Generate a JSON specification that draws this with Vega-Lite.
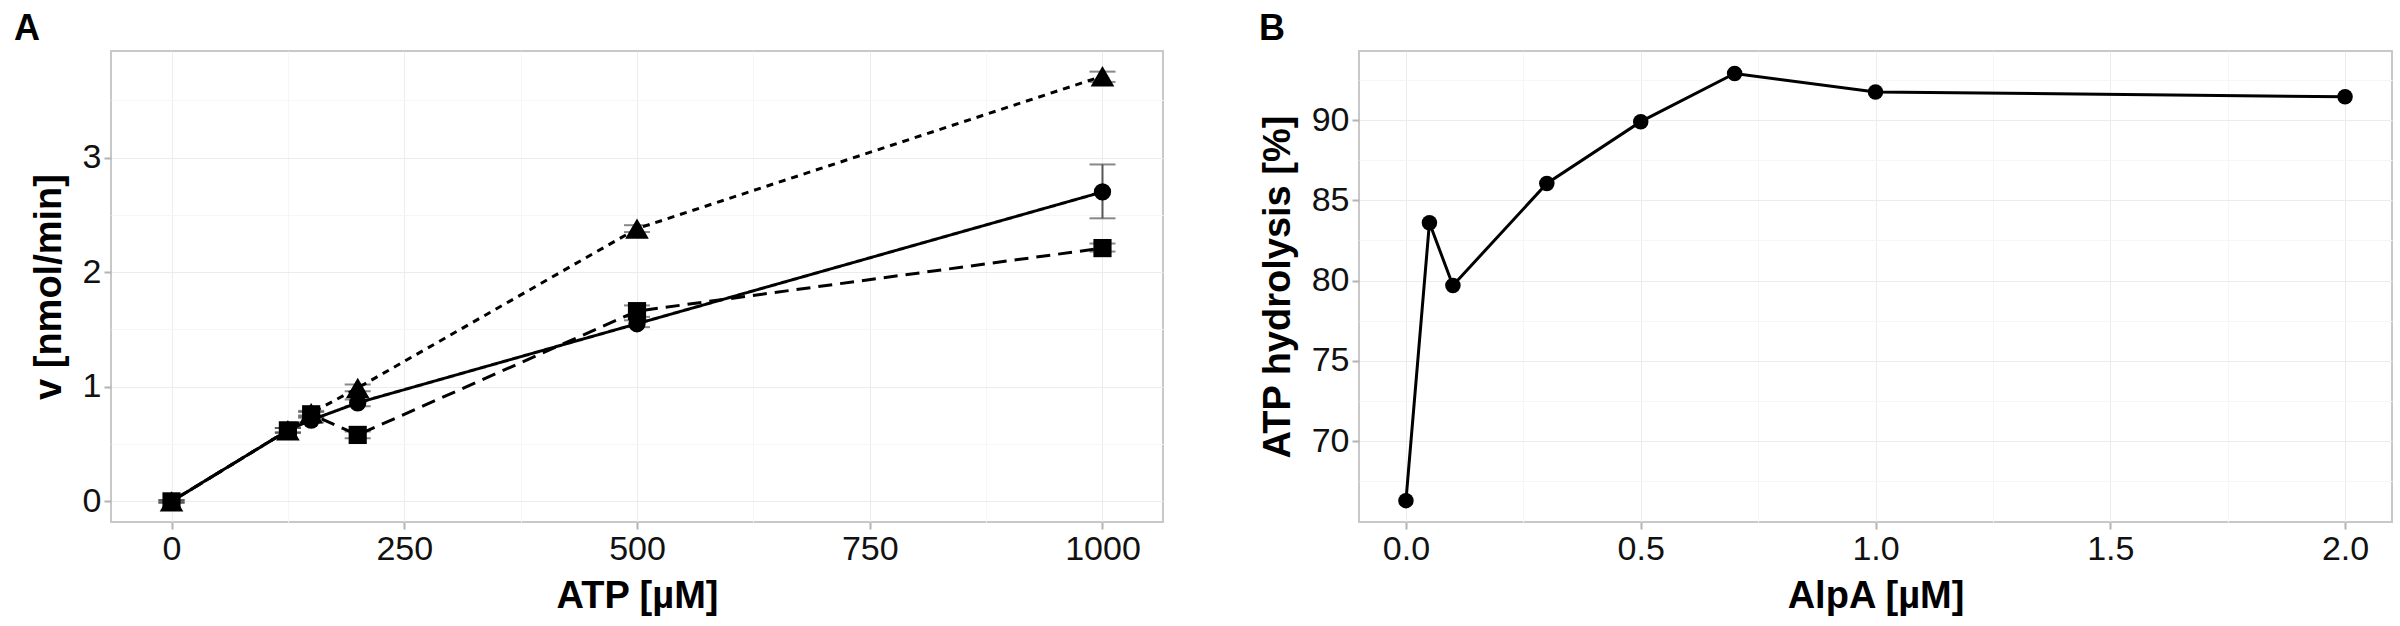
{
  "$schema": "https://vega.github.io/schema/vega-lite/v6.json",
  "padding": {"left": 13, "top": 10, "right": 9, "bottom": 0},
  "autosize": {"type": "pad"},
  "spacing": 94,
  "config": {
    "font": "Liberation Sans",
    "view": {"stroke": "#c8c8c8", "strokeWidth": 2},
    "axis": {
      "domain": false,
      "tickColor": "#b3b3b3",
      "tickWidth": 2,
      "tickSize": 7,
      "labelFont": "Liberation Sans",
      "labelFontSize": 34,
      "labelColor": "#111111",
      "labelOverlap": false,
      "labelFlush": false,
      "titleFont": "Liberation Sans",
      "titleFontSize": 38,
      "titleFontWeight": "bold",
      "titleColor": "#000000"
    },
    "axisX": {"labelPadding": 3, "titlePadding": 11},
    "axisY": {"labelPadding": 3, "titlePadding": 14},
    "title": {"fontSize": 36, "fontWeight": "bold", "anchor": "start", "frame": "group", "offset": 3, "color": "#000000", "font": "Liberation Sans"}
  },
  "hconcat": [
    {
      "title": {"text": "A", "dx": -97},
      "width": 1052,
      "height": 471,
      "data": {
        "values": [
          {"atp": 0, "v": 0, "lo": -0.01, "hi": 0.01, "s": "circle"},
          {"atp": 125, "v": 0.62, "lo": 0.6, "hi": 0.64, "s": "circle"},
          {"atp": 150, "v": 0.71, "lo": 0.69, "hi": 0.73, "s": "circle"},
          {"atp": 200, "v": 0.86, "lo": 0.83, "hi": 0.89, "s": "circle"},
          {"atp": 500, "v": 1.55, "lo": 1.52, "hi": 1.58, "s": "circle"},
          {"atp": 1000, "v": 2.7, "lo": 2.47, "hi": 2.94, "s": "circle"},
          {"atp": 0, "v": 0, "lo": -0.01, "hi": 0.01, "s": "triangle"},
          {"atp": 125, "v": 0.62, "lo": 0.6, "hi": 0.64, "s": "triangle"},
          {"atp": 150, "v": 0.77, "lo": 0.75, "hi": 0.79, "s": "triangle"},
          {"atp": 200, "v": 0.99, "lo": 0.96, "hi": 1.02, "s": "triangle"},
          {"atp": 500, "v": 2.38, "lo": 2.35, "hi": 2.41, "s": "triangle"},
          {"atp": 1000, "v": 3.71, "lo": 3.66, "hi": 3.75, "s": "triangle"},
          {"atp": 0, "v": 0, "lo": -0.01, "hi": 0.01, "s": "square"},
          {"atp": 125, "v": 0.62, "lo": 0.6, "hi": 0.64, "s": "square"},
          {"atp": 150, "v": 0.76, "lo": 0.74, "hi": 0.78, "s": "square"},
          {"atp": 200, "v": 0.58, "lo": 0.55, "hi": 0.61, "s": "square"},
          {"atp": 500, "v": 1.66, "lo": 1.61, "hi": 1.71, "s": "square"},
          {"atp": 1000, "v": 2.21, "lo": 2.18, "hi": 2.25, "s": "square"}
        ]
      },
      "encoding": {
        "x": {
          "field": "atp",
          "type": "quantitative",
          "title": "ATP [µM]",
          "scale": {"domain": [-65, 1065], "nice": false, "zero": false},
          "axis": {
            "values": [0, 125, 250, 375, 500, 625, 750, 875, 1000],
            "format": "d",
            "labelExpr": "datum.value % 250 === 0 ? datum.label : ''",
            "gridColor": {"condition": {"test": "datum.value % 250 !== 0", "value": "#f6f6f6"}, "value": "#ececec"},
            "tickOpacity": {"condition": {"test": "datum.value % 250 !== 0", "value": 0}, "value": 1}
          }
        },
        "y": {
          "field": "v",
          "type": "quantitative",
          "title": "v [nmol/min]",
          "scale": {"domain": [-0.18, 3.93], "nice": false, "zero": false},
          "axis": {
            "values": [0, 0.5, 1, 1.5, 2, 2.5, 3, 3.5],
            "format": "~g",
            "labelExpr": "datum.value % 1 === 0 ? datum.label : ''",
            "gridColor": {"condition": {"test": "datum.value % 1 !== 0", "value": "#f6f6f6"}, "value": "#ececec"},
            "tickOpacity": {"condition": {"test": "datum.value % 1 !== 0", "value": 0}, "value": 1}
          }
        }
      },
      "layer": [
        {
          "mark": {"type": "rule", "color": "#555555", "strokeWidth": 2},
          "encoding": {
            "y": {"field": "lo", "type": "quantitative", "title": "v [nmol/min]"},
            "y2": {"field": "hi"}
          }
        },
        {
          "mark": {"type": "tick", "orient": "horizontal", "color": "#555555", "thickness": 2, "size": 26},
          "encoding": {"y": {"field": "lo", "type": "quantitative", "title": "v [nmol/min]"}}
        },
        {
          "mark": {"type": "tick", "orient": "horizontal", "color": "#555555", "thickness": 2, "size": 26},
          "encoding": {"y": {"field": "hi", "type": "quantitative", "title": "v [nmol/min]"}}
        },
        {
          "mark": {"type": "line", "color": "#000000", "strokeWidth": 3},
          "encoding": {
            "strokeDash": {
              "field": "s",
              "type": "nominal",
              "scale": {"domain": ["circle", "triangle", "square"], "range": [[1, 0], [7, 6], [14, 8]]},
              "legend": null
            }
          }
        },
        {
          "transform": [{"filter": "datum.s === 'square'"}],
          "mark": {"type": "point", "shape": "square", "filled": true, "color": "#000000", "opacity": 1, "size": 330}
        },
        {
          "transform": [{"filter": "datum.s === 'circle'"}],
          "mark": {"type": "point", "shape": "circle", "filled": true, "color": "#000000", "opacity": 1, "size": 300}
        },
        {
          "transform": [{"filter": "datum.s === 'triangle'"}],
          "mark": {"type": "point", "shape": "triangle-up", "filled": true, "color": "#000000", "opacity": 1, "size": 560}
        }
      ]
    },
    {
      "title": {"text": "B", "dx": -100},
      "width": 1033,
      "height": 471,
      "data": {
        "values": [
          {"alpa": 0, "h": 66.3},
          {"alpa": 0.05, "h": 83.6},
          {"alpa": 0.1, "h": 79.7},
          {"alpa": 0.3, "h": 86.05},
          {"alpa": 0.5, "h": 89.9},
          {"alpa": 0.7, "h": 92.9},
          {"alpa": 1.0, "h": 91.75},
          {"alpa": 2.0, "h": 91.45}
        ]
      },
      "encoding": {
        "x": {
          "field": "alpa",
          "type": "quantitative",
          "title": "AlpA [µM]",
          "scale": {"domain": [-0.1, 2.1], "nice": false, "zero": false},
          "axis": {
            "values": [0, 0.25, 0.5, 0.75, 1, 1.25, 1.5, 1.75, 2],
            "format": ".1f",
            "labelExpr": "(datum.value * 4) % 2 === 0 ? datum.label : ''",
            "gridColor": {"condition": {"test": "(datum.value * 4) % 2 !== 0", "value": "#f6f6f6"}, "value": "#ececec"},
            "tickOpacity": {"condition": {"test": "(datum.value * 4) % 2 !== 0", "value": 0}, "value": 1}
          }
        },
        "y": {
          "field": "h",
          "type": "quantitative",
          "title": "ATP hydrolysis [%]",
          "scale": {"domain": [64.97, 94.3], "nice": false, "zero": false},
          "axis": {
            "values": [67.5, 70, 72.5, 75, 77.5, 80, 82.5, 85, 87.5, 90, 92.5],
            "format": "~g",
            "labelExpr": "datum.value % 5 === 0 ? datum.label : ''",
            "gridColor": {"condition": {"test": "datum.value % 5 !== 0", "value": "#f6f6f6"}, "value": "#ececec"},
            "tickOpacity": {"condition": {"test": "datum.value % 5 !== 0", "value": 0}, "value": 1}
          }
        }
      },
      "layer": [
        {"mark": {"type": "line", "color": "#000000", "strokeWidth": 3}},
        {"mark": {"type": "point", "filled": true, "color": "#000000", "opacity": 1, "size": 240}}
      ]
    }
  ]
}
